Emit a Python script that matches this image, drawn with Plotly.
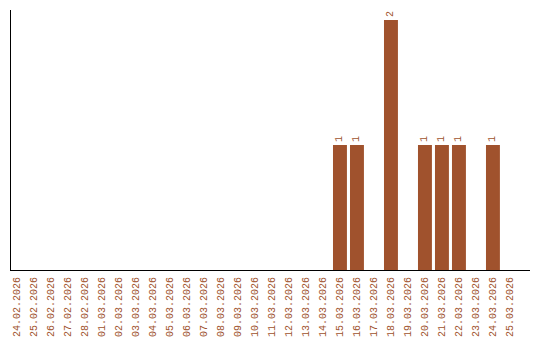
import plotly.graph_objects as go

dates = ["24.02.2026", "25.02.2026", "26.02.2026", "27.02.2026", "28.02.2026",
         "01.03.2026", "02.03.2026", "03.03.2026", "04.03.2026", "05.03.2026",
         "06.03.2026", "07.03.2026", "08.03.2026", "09.03.2026", "10.03.2026",
         "11.03.2026", "12.03.2026", "13.03.2026", "14.03.2026", "15.03.2026",
         "16.03.2026", "17.03.2026", "18.03.2026", "19.03.2026", "20.03.2026",
         "21.03.2026", "22.03.2026", "23.03.2026", "24.03.2026", "25.03.2026"]
counts = [0, 0, 0, 0, 0, 0, 0, 0, 0, 0, 0, 0, 0, 0, 0, 0, 0, 0, 0, 1,
          1, 0, 2, 0, 1, 1, 1, 0, 1, 0]

color = "#a0522d"
labels = [str(v) if v else "" for v in counts]

fig = go.Figure(go.Bar(
    x=dates, y=counts, marker_color=color, marker_line_width=0,
    text=labels, textposition="outside", textangle=-90,
    textfont=dict(family="Liberation Mono", size=10, color=color),
    cliponaxis=False,
))
fig.update_layout(
    width=540, height=340,
    margin=dict(l=11, r=10, t=10, b=70, autoexpand=False),
    paper_bgcolor="white", plot_bgcolor="white",
    bargap=0.18, showlegend=False,
    xaxis=dict(type="category", range=[-0.353, 30.18], showline=True,
               linecolor="black", linewidth=1, showgrid=False, automargin=False,
               tickangle=-90, ticks="outside", ticklen=2, tickcolor="white",
               tickfont=dict(family="Liberation Mono", size=10, color=color)),
    yaxis=dict(range=[0, 2.08], showline=True, linecolor="black", linewidth=1,
               showgrid=False, showticklabels=False, ticks="", zeroline=False,
               automargin=False),
)
fig.write_html("out.html")
